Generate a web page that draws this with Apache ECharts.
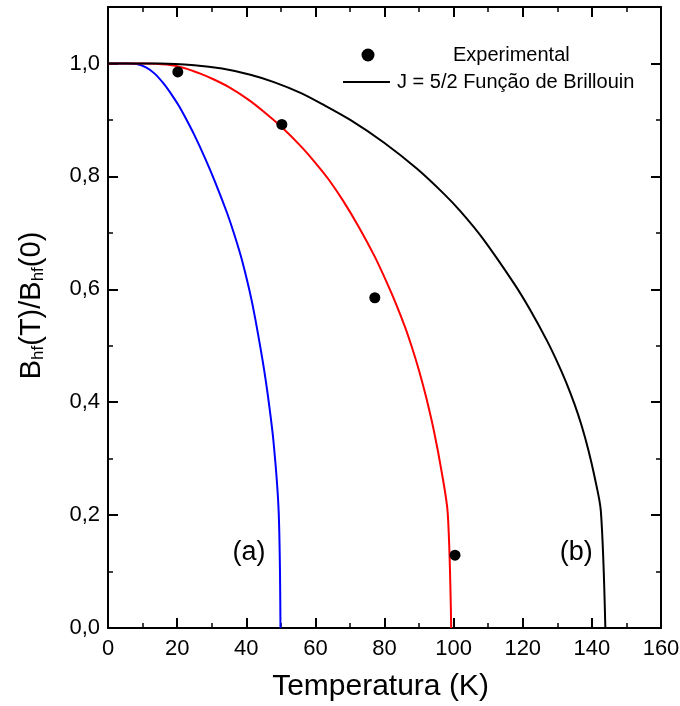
<!DOCTYPE html>
<html>
<head>
<meta charset="utf-8">
<script src="https://cdn.jsdelivr.net/npm/echarts@6/dist/echarts.min.js"></script>
<style>
  html, body { margin: 0; padding: 0; background: #fff; }
  #chart { width: 680px; height: 706px; }
</style>
</head>
<body>
<div id="chart"></div>
<script>
// Brillouin curve (a), Tc ~ 50 K
const curveA_T = [0, 5, 8.3, 11, 13.5, 16, 18.5, 20.5, 22.3, 25, 28.1, 31, 34.4, 36.5, 38.7, 41.6, 44.2, 46, 47.9, 49.4, 49.9];
const curveA_B = [1.0, 1.0, 0.999, 0.993, 0.982, 0.965, 0.944, 0.925, 0.905, 0.873, 0.832, 0.790, 0.736, 0.698, 0.653, 0.579, 0.493, 0.423, 0.329, 0.203, 0];

// Brillouin curve, Tc ~ 99 K
const curveM_T = [0, 10, 17, 22, 26.7, 30.5, 35, 40.6, 45, 50.3, 55.7, 60, 63.9, 68, 72.6, 77, 80, 83.2, 86, 88, 89.9, 92, 94.3, 96.5, 98.3, 99.3];
const curveM_B = [1.0, 1.0, 0.998, 0.992, 0.982, 0.972, 0.958, 0.936, 0.915, 0.887, 0.854, 0.824, 0.794, 0.757, 0.710, 0.660, 0.621, 0.576, 0.532, 0.496, 0.458, 0.410, 0.349, 0.278, 0.203, 0];

// Brillouin curve (b), Tc ~ 144 K
const curveB_T = [0, 15, 25, 33, 41.2, 48, 55.7, 62, 70.1, 79.8, 89.5, 97.2, 102, 108.3, 117.5, 122, 127, 130, 132.5, 135, 137, 139, 140.7, 142.6, 143.9];
const curveB_B = [1.0, 1.0, 0.997, 0.991, 0.980, 0.967, 0.948, 0.928, 0.900, 0.860, 0.813, 0.769, 0.738, 0.691, 0.610, 0.565, 0.509, 0.471, 0.436, 0.396, 0.359, 0.315, 0.270, 0.207, 0];

// Experimental points
const expT = [20.2, 50.3, 77.2, 100.4];
const expB = [0.985, 0.892, 0.585, 0.129];

// Curve tags placed in data space
const tagNames = ['(a)', '(b)'];
const tagT = [40.8, 135.5];
const tagB = [0.133, 0.133];

// Axis ticks
const xTicks = [0, 20, 40, 60, 80, 100, 120, 140, 160];
const yTicks = [0, 0.2, 0.4, 0.6, 0.8, 1.0];

const FONT = '"Liberation Sans", Arial, sans-serif';
const zip = (xs, ys) => xs.map((x, i) => [x, ys[i]]);

const chart = echarts.init(document.getElementById('chart'), null, { renderer: 'canvas' });

const frameLine = { show: true, onZero: false, lineStyle: { color: '#000', width: 2 } };
const majorTick = { show: true, inside: true, length: 10, lineStyle: { color: '#000', width: 2 } };
const minorTickAxis = { show: true, inside: true, length: 5, lineStyle: { color: '#000', width: 1.5 } };

const yLabel = v => {
  const hit = yTicks.find(t => Math.abs(t - v) < 1e-6);
  return hit === undefined ? '' : hit.toFixed(1).replace('.', ',');
};

const curveSeries = (name, xs, ys, color) => ({
  name, type: 'line', xAxisIndex: 0, yAxisIndex: 0,
  data: zip(xs, ys), showSymbol: false, symbol: 'none',
  smooth: 0.3,
  lineStyle: { color, width: 2 }, z: 3
});

const option = {
  animation: false,
  backgroundColor: '#fff',
  grid: { left: 108, right: 19, top: 7, bottom: 78, containLabel: false, outerBoundsMode: 'none' },
  xAxis: [
    {
      type: 'value', min: xTicks[0], max: xTicks[xTicks.length - 1], interval: 20,
      position: 'bottom',
      axisLine: frameLine,
      axisTick: majorTick,
      minorTick: { show: true, splitNumber: 2, length: 5, lineStyle: { color: '#000', width: 1.5 } },
      splitLine: { show: false },
      axisLabel: { show: true, margin: 10, color: '#000', fontSize: 22, fontFamily: FONT },
      name: 'Temperatura (K)',
      nameLocation: 'middle',
      nameGap: 44,
      nameTextStyle: { color: '#000', fontSize: 30, fontFamily: FONT, padding: [0, 8, 0, 0] }
    },
    {
      type: 'value', min: xTicks[0], max: xTicks[xTicks.length - 1], interval: 20,
      position: 'top',
      axisLine: frameLine,
      axisTick: majorTick,
      minorTick: { show: true, splitNumber: 2, length: 5, lineStyle: { color: '#000', width: 1.5 } },
      splitLine: { show: false },
      axisLabel: { show: false }
    }
  ],
  yAxis: [
    {
      type: 'value', min: 0, max: 1.1, interval: 0.2,
      position: 'left',
      axisLine: frameLine,
      axisTick: majorTick,
      splitLine: { show: false },
      axisLabel: { show: true, margin: 8, color: '#000', fontSize: 22, fontFamily: FONT, formatter: yLabel },
      name: '{m|B}{s|hf}{m|(T)/B}{s|hf}{m|(0)}',
      nameLocation: 'middle',
      nameRotate: 90,
      nameGap: 61,
      nameTextStyle: {
        color: '#000', fontFamily: FONT, padding: [0, 0, 0, 24],
        rich: {
          m: { fontSize: 29, fontFamily: FONT, color: '#000', lineHeight: 30, verticalAlign: 'top' },
          s: { fontSize: 17, fontFamily: FONT, color: '#000', lineHeight: 17, verticalAlign: 'bottom', padding: [24, 0, 0, 0] }
        }
      }
    },
    {
      type: 'value', min: 0, max: 1.1, interval: 0.1,
      position: 'left',
      axisLine: { show: false, onZero: false },
      axisTick: minorTickAxis,
      splitLine: { show: false },
      axisLabel: { show: false }
    },
    {
      type: 'value', min: 0, max: 1.1, interval: 0.2,
      position: 'right',
      axisLine: frameLine,
      axisTick: majorTick,
      splitLine: { show: false },
      axisLabel: { show: false }
    },
    {
      type: 'value', min: 0, max: 1.1, interval: 0.1,
      position: 'right',
      axisLine: { show: false, onZero: false },
      axisTick: minorTickAxis,
      splitLine: { show: false },
      axisLabel: { show: false }
    }
  ],
  series: [
    curveSeries('Tc 50 K', curveA_T, curveA_B, '#0000ff'),
    curveSeries('Tc 99 K', curveM_T, curveM_B, '#ff0000'),
    curveSeries('J = 5/2 Função de Brillouin', curveB_T, curveB_B, '#000000'),
    {
      name: 'Experimental', type: 'scatter', xAxisIndex: 0, yAxisIndex: 0,
      data: zip(expT, expB), symbol: 'circle', symbolSize: 11,
      itemStyle: { color: '#000', opacity: 1 }, z: 5
    },
    {
      name: 'tags', type: 'scatter', xAxisIndex: 0, yAxisIndex: 0,
      data: tagNames.map((n, i) => ({ name: n, value: [tagT[i], tagB[i]] })),
      symbolSize: 0, silent: true,
      itemStyle: { opacity: 1 },
      label: {
        show: true, position: 'inside', formatter: p => p.name,
        color: '#000', fontSize: 27, fontFamily: FONT
      }, z: 4
    }
  ],
  graphic: [
    { type: 'circle', shape: { cx: 368, cy: 55, r: 6.5 }, style: { fill: '#000' }, z: 10 },
    { type: 'text', x: 453, y: 55, style: { text: 'Experimental', fill: '#000', font: '20px ' + FONT, verticalAlign: 'middle' }, z: 10 },
    { type: 'line', shape: { x1: 343, y1: 82, x2: 390, y2: 82 }, style: { stroke: '#000', lineWidth: 2 }, z: 10 },
    { type: 'text', x: 397, y: 82, style: { text: 'J = 5/2 Função de Brillouin', fill: '#000', font: '20px ' + FONT, verticalAlign: 'middle' }, z: 10 }
  ]
};

chart.setOption(option);
</script>
</body>
</html>
